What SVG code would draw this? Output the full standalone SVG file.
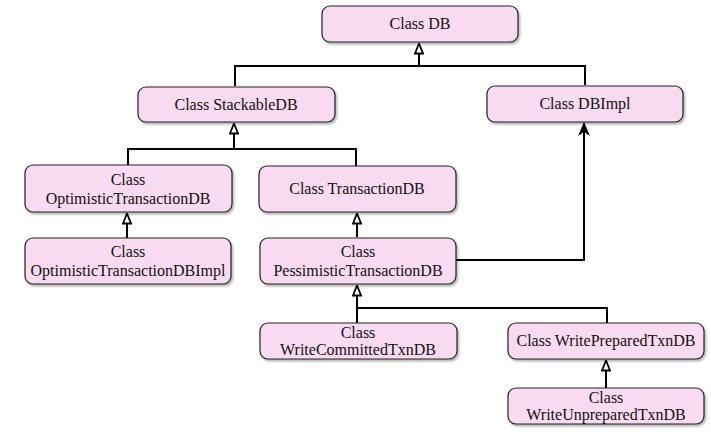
<svg xmlns="http://www.w3.org/2000/svg" width="711" height="434" viewBox="0 0 711 434">
<defs>
<filter id="sh" x="-10%" y="-20%" width="125%" height="150%">
<feDropShadow dx="1.5" dy="2" stdDeviation="1.2" flood-color="#000" flood-opacity="0.3"/>
</filter>
<marker id="tri" viewBox="0 0 12 10" refX="11.5" refY="5" markerWidth="12" markerHeight="10" markerUnits="userSpaceOnUse" orient="auto">
<path d="M1,1 L11,5 L1,9 Z" fill="#fff" stroke="#000" stroke-width="1.8"/>
</marker>
<marker id="arr" viewBox="0 0 14 12" refX="13" refY="6" markerWidth="14" markerHeight="12" markerUnits="userSpaceOnUse" orient="auto">
<path d="M0,0 L14,6 L0,12 L4,6 Z" fill="#000"/>
</marker>
</defs>
<style>
.box{fill:#f9dbf1;stroke:#222;stroke-width:1.2;filter:url(#sh)}
.t{font-family:"Liberation Serif","Times New Roman",serif;font-size:16px;fill:#111;text-anchor:middle}
.c{fill:none;stroke:#000;stroke-width:2}
</style>
<rect width="711" height="434" fill="#fff"/>
<g id="connectors">
<path class="c" d="M235,86 V66 H585 V85"/>
<path class="c" d="M419,66 V43" marker-end="url(#tri)"/>
<path class="c" d="M128,165 V149 H356 V166"/>
<path class="c" d="M234,149 V123" marker-end="url(#tri)"/>
<path class="c" d="M127,238 V213" marker-end="url(#tri)"/>
<path class="c" d="M357,237 V213" marker-end="url(#tri)"/>
<path class="c" d="M456,260 H584 V123" marker-end="url(#arr)"/>
<path class="c" d="M357,323 V308 H607 V323"/>
<path class="c" d="M357,308 V285" marker-end="url(#tri)"/>
<path class="c" d="M606,388 V360" marker-end="url(#tri)"/>
</g>
<g id="db"><rect class="box" x="322" y="6" width="196" height="36" rx="8"/><text class="t" x="420" y="29">Class DB</text></g>
<g id="stackabledb"><rect class="box" x="138" y="87" width="197" height="35" rx="8"/><text class="t" x="236" y="110">Class StackableDB</text></g>
<g id="dbimpl"><rect class="box" x="487" y="86" width="196" height="36" rx="8"/><text class="t" x="585" y="109">Class DBImpl</text></g>
<g id="optimistictransactiondb"><rect class="box" x="25" y="165" width="207" height="47" rx="8"/><text class="t" x="128" y="185">Class</text><text class="t" x="128" y="204">OptimisticTransactionDB</text></g>
<g id="transactiondb"><rect class="box" x="259" y="166" width="197" height="46" rx="8"/><text class="t" x="357" y="194">Class TransactionDB</text></g>
<g id="optimistictransactiondbimpl"><rect class="box" x="25" y="238" width="206" height="46" rx="8"/><text class="t" x="128" y="257">Class</text><text class="t" x="128" y="276">OptimisticTransactionDBImpl</text></g>
<g id="pessimistictransactiondb"><rect class="box" x="260" y="238" width="196" height="46" rx="8"/><text class="t" x="358" y="257">Class</text><text class="t" x="358" y="276">PessimisticTransactionDB</text></g>
<g id="writecommittedtxndb"><rect class="box" x="260" y="323" width="197" height="36" rx="8"/><text class="t" x="358" y="338">Class</text><text class="t" x="358" y="355">WriteCommittedTxnDB</text></g>
<g id="writepreparedtxndb"><rect class="box" x="508" y="323" width="196" height="36" rx="8"/><text class="t" x="606" y="346">Class WritePreparedTxnDB</text></g>
<g id="writeunpreparedtxndb"><rect class="box" x="508" y="388" width="196" height="36" rx="8"/><text class="t" x="606" y="403">Class</text><text class="t" x="606" y="420">WriteUnpreparedTxnDB</text></g>
</svg>
